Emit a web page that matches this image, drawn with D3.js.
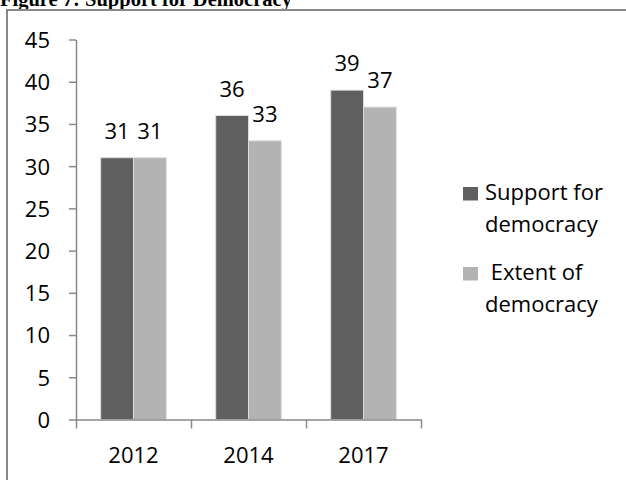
<!DOCTYPE html>
<html>
<head>
<meta charset="utf-8">
<script src="https://cdn.jsdelivr.net/npm/d3@7"></script>
<style>
  body { margin: 0; background: #fff; }
  text { font-family: "Open Sans", sans-serif; }
</style>
</head>
<body>
<div id="chart"></div>
<script>
// data
var years = ["2012", "2014", "2017"];
var seriesNames = ["Support for democracy", "Extent of democracy"];
var supportVals = [31, 36, 39];
var extentVals = [31, 33, 37];
var yTicks = [0, 5, 10, 15, 20, 25, 30, 35, 40, 45];

var colors = ["#5f5f5f", "#b3b3b3"];

var width = 626, height = 480;

var svg = d3.select("#chart")
  .append("svg")
  .attr("width", width)
  .attr("height", height);

// title, clipped at the top of the picture
svg.append("text")
  .attr("x", 0)
  .attr("y", 6)
  .style("font-family", "'Liberation Serif', 'Times New Roman', serif")
  .style("font-weight", "bold")
  .style("font-size", "20.5px")
  .text("Figure 7: Support for Democracy");

// outer frame (right and bottom edges fall outside the picture)
svg.append("path")
  .attr("d", "M7," + height + " V10 H" + width)
  .attr("fill", "none")
  .attr("stroke", "#888")
  .attr("stroke-width", 2);

var plotLeft = 76, plotRight = 421, plotTop = 39.5, plotBottom = 419.5;

var y = d3.scaleLinear()
  .domain([0, 45])
  .range([plotBottom, plotTop]);

var x0 = d3.scaleBand()
  .domain(years)
  .range([plotLeft, plotRight])
  .padding(0);

var gap = 24.7;
var x1 = d3.scaleBand()
  .domain(seriesNames)
  .range([gap, x0.bandwidth() - gap]);

var rows = years.map(function(yr, i) {
  return { year: yr, values: [supportVals[i], extentVals[i]] };
});

// bars
var groups = svg.selectAll("g.year")
  .data(rows)
  .enter()
  .append("g")
    .attr("class", "year")
    .attr("transform", function(d) { return "translate(" + x0(d.year) + ",0)"; });

groups.selectAll("rect")
  .data(function(d) { return d.values.map(function(v, j) { return { name: seriesNames[j], value: v, j: j }; }); })
  .enter()
  .append("rect")
    .attr("x", function(d) { return x1(d.name); })
    .attr("y", function(d) { return y(d.value); })
    .attr("width", x1.bandwidth())
    .attr("height", function(d) { return y(0) - y(d.value); })
    .attr("fill", function(d) { return colors[d.j]; })
    .attr("stroke", "#dcdcdc")
    .attr("stroke-width", 1);

// value labels
groups.selectAll("text.val")
  .data(function(d) { return d.values.map(function(v, j) { return { name: seriesNames[j], value: v }; }); })
  .enter()
  .append("text")
    .attr("class", "val")
    .attr("x", function(d) { return x1(d.name) + x1.bandwidth() / 2; })
    .attr("y", function(d) { return y(d.value) - 19; })
    .attr("text-anchor", "middle")
    .style("font-size", "22px")
    .text(function(d) { return d.value; });

// y axis
var yAxis = svg.append("g")
  .attr("transform", "translate(" + plotLeft + ",0)")
  .call(d3.axisLeft(y).tickValues(yTicks).tickSize(7).tickPadding(19).tickSizeOuter(0));

yAxis.selectAll("text")
  .attr("dy", "0.36em")
  .style("font-size", "22px")
  .style("font-family", "'Open Sans', sans-serif")
  .attr("fill", "#000");

// x axis: ticks on category boundaries
var xb = d3.scaleLinear().domain([0, years.length]).range([plotLeft, plotRight]);
var xAxis = svg.append("g")
  .attr("transform", "translate(0," + plotBottom + ")")
  .call(d3.axisBottom(xb).tickValues(d3.range(years.length + 1)).tickSize(9).tickSizeOuter(0).tickFormat(""));

var xLabels = svg.append("g")
  .attr("transform", "translate(0," + plotBottom + ")")
  .call(d3.axisBottom(x0).tickSize(0));
xLabels.select(".domain").remove();
xLabels.selectAll("text")
  .attr("y", 43.5)
  .attr("dy", null)
  .style("font-size", "22px")
  .style("font-family", "'Open Sans', sans-serif")
  .attr("fill", "#000");

svg.selectAll(".domain, .tick line")
  .attr("stroke", "#898989")
  .attr("stroke-width", 1.5);

// legend
var legendLines = [["Support for", "democracy"], [" Extent of", "democracy"]];
var legend = svg.selectAll("g.legend")
  .data(seriesNames)
  .enter()
  .append("g")
    .attr("class", "legend")
    .attr("transform", function(d, i) { return "translate(463," + (187 + i * 80) + ")"; });

legend.append("rect")
  .attr("width", 15)
  .attr("height", 13.5)
  .attr("fill", function(d, i) { return colors[i]; });

legend.each(function(d, i) {
  var t = d3.select(this).append("text")
    .attr("x", 22)
    .attr("y", 12.5)
    .style("font-size", "22px")
    .style("white-space", "pre");
  t.append("tspan").attr("x", 22).text(legendLines[i][0]);
  t.append("tspan").attr("x", 22).attr("dy", 32.5).text(legendLines[i][1]);
});
</script>
</body>
</html>
